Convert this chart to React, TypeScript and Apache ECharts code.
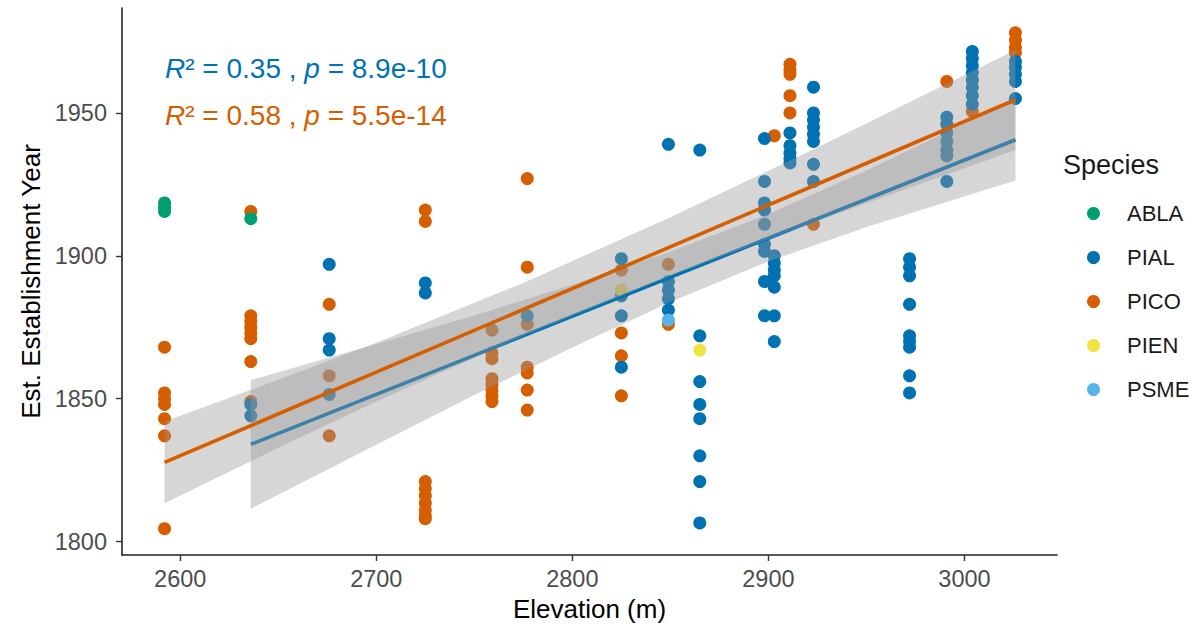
import React, { useEffect, useRef } from "react";
import * as echarts from "echarts";

// ---------- data (elevation m, establishment year) ----------
const SPECIES = ["ABLA", "PIAL", "PICO", "PIEN", "PSME"];
const COLORS: Record<string, string> = {
  ABLA: "#009E73",
  PIAL: "#0072B2",
  PICO: "#D55E00",
  PIEN: "#F0E442",
  PSME: "#56B4E9",
};

const ABLA_PTS = [
  [2592, 1918.5], [2592, 1917], [2592, 1915.5], [2636, 1913],
];

const PICO_PTS = [
  [2592, 1868], [2592, 1852], [2592, 1850], [2592, 1848], [2592, 1843], [2592, 1837], [2592, 1804.5],
  [2636, 1915.5], [2636, 1879], [2636, 1877], [2636, 1875], [2636, 1873], [2636, 1871], [2636, 1863], [2636, 1849],
  [2676, 1883], [2676, 1858], [2676, 1837],
  [2725, 1916], [2725, 1912], [2725, 1821], [2725, 1818.5], [2725, 1816], [2725, 1813.5], [2725, 1811], [2725, 1809], [2725, 1808],
  [2759, 1874], [2759, 1866], [2759, 1864], [2759, 1857], [2759, 1855], [2759, 1853], [2759, 1851], [2759, 1849],
  [2777, 1927], [2777, 1896], [2777, 1876], [2777, 1861], [2777, 1859], [2777, 1853], [2777, 1846],
  [2825, 1895], [2825, 1873], [2825, 1865], [2825, 1851],
  [2849, 1897], [2849, 1876],
  [2903, 1942],
  [2911, 1967], [2911, 1965], [2911, 1963.5], [2911, 1956], [2911, 1950],
  [2923, 1911],
  [2991, 1961],
  [3004, 1950.5],
  [3026, 1978], [3026, 1975.5], [3026, 1973], [3026, 1971],
];

const PIAL_PTS = [
  [2636, 1848], [2636, 1844],
  [2676, 1897], [2676, 1871], [2676, 1867], [2676, 1851.5],
  [2725, 1890.5], [2725, 1887],
  [2777, 1879],
  [2825, 1899], [2825, 1886], [2825, 1879], [2825, 1861],
  [2849, 1939], [2849, 1891], [2849, 1888], [2849, 1885], [2849, 1881],
  [2865, 1937], [2865, 1872], [2865, 1856], [2865, 1848], [2865, 1843], [2865, 1830], [2865, 1821], [2865, 1806.5],
  [2898, 1941], [2898, 1926], [2898, 1918.5], [2898, 1916], [2898, 1911], [2898, 1904], [2898, 1901.5], [2898, 1891], [2898, 1879],
  [2903, 1900], [2903, 1897.5], [2903, 1895], [2903, 1893], [2903, 1889], [2903, 1879], [2903, 1870],
  [2911, 1943], [2911, 1938.5], [2911, 1936], [2911, 1934], [2911, 1932.5],
  [2923, 1959], [2923, 1950], [2923, 1947.5], [2923, 1945], [2923, 1942.5], [2923, 1940], [2923, 1932], [2923, 1926],
  [2972, 1899], [2972, 1896], [2972, 1893], [2972, 1883], [2972, 1872], [2972, 1870], [2972, 1868], [2972, 1858], [2972, 1852],
  [2991, 1948.5], [2991, 1946], [2991, 1943], [2991, 1940], [2991, 1937], [2991, 1935], [2991, 1926],
  [3004, 1971.5], [3004, 1969], [3004, 1966.5], [3004, 1964], [3004, 1961.5], [3004, 1959], [3004, 1956], [3004, 1953],
  [3026, 1968], [3026, 1966], [3026, 1963.5], [3026, 1961], [3026, 1955],
];

const PIEN_PTS = [[2825, 1888], [2865, 1867]];
const PSME_PTS = [[2849, 1877.5]];

// regression lines (end points)
const PICO_LINE = [[2592, 1827.7], [3026, 1954.6]];
const PIAL_LINE = [[2636, 1834], [3026, 1940.6]];

// confidence bands (edges)
const PICO_BAND_X = [2592, 2650, 2700, 2775, 2850, 2925, 3026];
const PICO_BAND_LO = [1813.4, 1832.8, 1849.0, 1871.9, 1892.9, 1912.3, 1937.0];
const PICO_BAND_HI = [1842.0, 1856.6, 1869.6, 1890.5, 1913.5, 1937.9, 1972.0];

const PIAL_BAND_X = [2636, 2700, 2750, 2800, 2850, 2900, 2950, 3026];
const PIAL_BAND_LO = [1811.5, 1833.9, 1851.3, 1867.9, 1883.8, 1898.0, 1910.1, 1926.3];
const PIAL_BAND_HI = [1856.5, 1869.1, 1879.1, 1889.9, 1901.4, 1914.6, 1929.8, 1954.9];

const X_TICKS = [2600, 2700, 2800, 2900, 3000];
const Y_TICKS = [1800, 1850, 1900, 1950];

const FONT = "'Liberation Sans', Arial, sans-serif";

function bandSeries(xs: number[], lo: number[], hi: number[], z: number) {
  const data = xs.map((x, i) => [x, lo[i], hi[i]]);
  return {
    type: "custom",
    silent: true,
    clip: true,
    z,
    data,
    encode: { x: 0, y: [1, 2] },
    renderItem: (params: any, api: any) => {
      if (params.dataIndex !== 0) return null;
      const upper = data.map((d) => api.coord([d[0], d[2]]));
      const lower = data.map((d) => api.coord([d[0], d[1]])).reverse();
      return {
        type: "polygon",
        shape: { points: upper.concat(lower) },
        style: { fill: "rgba(153,153,153,0.4)", stroke: "none" },
      };
    },
  };
}

function lineSeries(pts: number[][], color: string, z: number) {
  return {
    type: "line",
    data: pts,
    z,
    showSymbol: false,
    silent: true,
    lineStyle: { color, width: 3.6 },
  };
}

export default function App() {
  const ref = useRef<HTMLDivElement>(null);

  useEffect(() => {
    if (!ref.current) return;
    const chart = echarts.init(ref.current, undefined, { renderer: "svg" });
    const ptsBy: Record<string, number[][]> = {
      ABLA: ABLA_PTS,
      PIAL: PIAL_PTS,
      PICO: PICO_PTS,
      PIEN: PIEN_PTS,
      PSME: PSME_PTS,
    };
    const drawOrder = ["PICO", "PIAL", "ABLA", "PIEN", "PSME"];
    const scatter = drawOrder.map((s) => ({
      name: s,
      type: "scatter",
      z: 1,
      data: ptsBy[s],
      symbol: "circle",
      symbolSize: 13,
      itemStyle: { color: COLORS[s], opacity: 1 },
    }));

    const fmt = (v: number) => String(v);

    chart.setOption({
      animation: false,
      backgroundColor: "#ffffff",
      grid: { left: 122, top: 8, width: 935, height: 547, containLabel: false },
      xAxis: {
        type: "value",
        min: 2570.3,
        max: 3047.2,
        name: "Elevation (m)",
        nameLocation: "middle",
        nameGap: 36,
        nameTextStyle: { color: "#000", fontSize: 26, fontFamily: FONT },
        axisLine: { show: true, lineStyle: { color: "#222", width: 1.6 } },
        axisTick: { show: true, customValues: X_TICKS, length: 6, lineStyle: { color: "#333", width: 1.4 } },
        axisLabel: { customValues: X_TICKS, formatter: fmt, color: "#4D4D4D", fontSize: 23.5, fontFamily: FONT, margin: 12 },
        splitLine: { show: false },
      },
      yAxis: {
        type: "value",
        min: 1795.3,
        max: 1986.7,
        name: "Est. Establishment Year",
        nameLocation: "middle",
        nameGap: 70,
        nameTextStyle: { color: "#000", fontSize: 26, fontFamily: FONT },
        axisLine: { show: true, lineStyle: { color: "#222", width: 1.6 } },
        axisTick: { show: true, customValues: Y_TICKS, length: 6, lineStyle: { color: "#333", width: 1.4 } },
        axisLabel: { customValues: Y_TICKS, formatter: fmt, color: "#4D4D4D", fontSize: 23.5, fontFamily: FONT, margin: 15 },
        splitLine: { show: false },
      },
      legend: {
        orient: "vertical",
        left: 1082,
        top: 197,
        data: SPECIES.map((s) => ({ name: s, icon: "circle" })),
        itemWidth: 13,
        itemHeight: 13,
        itemGap: 21,
        selectedMode: false,
        textStyle: {
          color: "#1a1a1a",
          fontSize: 22,
          fontFamily: FONT,
          lineHeight: 23,
          padding: [0, 0, 0, 22],
        },
      },
      graphic: [
        {
          type: "text",
          left: 1063,
          top: 151,
          style: { text: "Species", fill: "#1a1a1a", font: `27px ${FONT}` },
        },
        {
          type: "text",
          left: 165,
          top: 54,
          style: {
            text: "{i|R}² = 0.35 , {i|p} = 8.9e-10",
            fill: COLORS.PIAL,
            font: `28px ${FONT}`,
            rich: { i: { fontStyle: "italic", fontSize: 28, fontFamily: FONT, fill: COLORS.PIAL } },
          },
        },
        {
          type: "text",
          left: 165,
          top: 101,
          style: {
            text: "{i|R}² = 0.58 , {i|p} = 5.5e-14",
            fill: COLORS.PICO,
            font: `28px ${FONT}`,
            rich: { i: { fontStyle: "italic", fontSize: 28, fontFamily: FONT, fill: COLORS.PICO } },
          },
        },
      ],
      series: [
        ...scatter,
        bandSeries(PIAL_BAND_X, PIAL_BAND_LO, PIAL_BAND_HI, 3),
        lineSeries(PIAL_LINE, COLORS.PIAL, 4),
        bandSeries(PICO_BAND_X, PICO_BAND_LO, PICO_BAND_HI, 5),
        lineSeries(PICO_LINE, COLORS.PICO, 6),
      ],
    });
    return () => chart.dispose();
  }, []);

  return (
    <div
      ref={ref}
      style={{ position: "absolute", left: 0, top: 0, width: 1198, height: 632, background: "#fff" }}
    />
  );
}
